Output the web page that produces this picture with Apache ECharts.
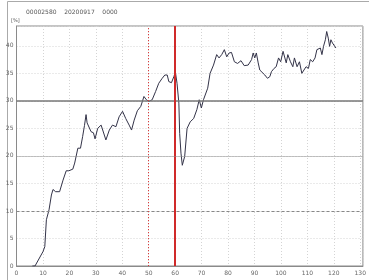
<!doctype html>
<html>
<head>
    <meta charset="utf-8">
    <script src="https://cdn.jsdelivr.net/npm/echarts/dist/echarts.min.js"></script>
    <style>
        body { margin: 0; background: #fff; }
        #chart { width: 369px; height: 280px; }
    </style>
</head>
<body>
    <div id="chart"></div>
</body>
<script type="text/javascript">
    // header text and limit lines
    var headerText = '00002580    20200917    0000';
    var unitText = '[%]';
    var limitY = [10, 20, 30];
    var markX = [50, 60];

    // measured curve (time, percent)
    var timeVals = [6, 7, 10, 10.7, 11.3, 12.3, 13.2, 13.8, 14.8, 16.3, 17.6, 18.8, 19.8, 21.3, 22, 23.2, 24.2, 25, 25.7, 26.3, 26.7, 27.3, 28.2, 29.1, 29.7, 30.7, 32, 32.6, 33.8, 35.1, 36.3, 37.6, 38.8, 40.1, 41.3, 42.6, 43.5, 44.5, 45.7, 47, 48.2, 49.1, 50.1, 51.3, 52.6, 53.8, 55.1, 56.1, 57, 57.6, 58.6, 59.5, 60.1, 60.7, 61.4, 61.7, 62.2, 62.7, 63.6, 64.5, 65.7, 67, 68.2, 69.1, 69.9, 70.7, 72.3, 73.2, 74.5, 75.7, 76.6, 77.6, 78.6, 79.5, 80.4, 81.3, 82.4, 83.6, 84.9, 86.1, 87.6, 88.9, 89.5, 90.1, 90.7, 91.4, 92, 92.6, 93.9, 94.9, 95.8, 96.4, 97.4, 98.2, 99.1, 99.9, 100.8, 101.4, 102, 102.6, 103.6, 104.5, 105.1, 106.1, 107, 107.9, 108.6, 109.5, 110.4, 111.1, 112, 112.9, 113.6, 114.3, 114.9, 115.5, 116.1, 116.8, 117.3, 117.9, 118.4, 118.9, 119.5, 120.2, 120.8];
    var pctVals = [0, 0, 2.6, 3.5, 8.4, 10.2, 12.9, 13.9, 13.5, 13.5, 15.6, 17.3, 17.3, 17.6, 18.7, 21.4, 21.4, 23.5, 25.5, 27.5, 26, 26.2, 24.4, 24.2, 23.1, 25, 25.6, 25.5, 22.9, 24.7, 25.6, 25.3, 27.1, 28.1, 26.8, 25.6, 24.7, 26.5, 28.2, 29, 30.8, 30.2, 29.9, 30.2, 31.7, 33.2, 34.1, 34.7, 34.7, 33.5, 33.3, 34.4, 35.2, 33.2, 29.6, 24.1, 20.5, 18.3, 19.9, 25, 26.2, 26.8, 28.4, 30.2, 28.7, 30.2, 32.3, 35, 36.5, 38.4, 37.8, 38.4, 39.3, 38, 38.7, 38.8, 37.1, 36.8, 37.3, 36.4, 36.5, 37.5, 38.7, 37.8, 38.7, 36.9, 35.6, 35.3, 34.7, 34.1, 34.4, 35.3, 35.9, 36.2, 37.8, 37.1, 39, 38.7, 36.9, 38.4, 37.1, 36.2, 37.8, 36.2, 37.1, 35, 34.7, 36.2, 35.9, 37.5, 37.1, 37.8, 39.3, 39, 39.6, 38.4, 39.9, 41.1, 42.6, 41.4, 39.9, 41.1, 40.5, 40.8, 39.6];

    var curve = timeVals.map(function (t, i) { return [t, pctVals[i]]; });

    var chart = echarts.init(document.getElementById('chart'));

    var labelStyle = { color: '#666', fontSize: 6, fontFamily: 'DejaVu Sans' };

    var option = {
        animation: false,
        grid: {
            left: 16.5, right: 4, top: 26, bottom: 14,
            show: true, borderColor: '#8a8a8a', borderWidth: 1
        },
        graphic: [
            {
                type: 'rect', shape: { x: 7.5, y: 1.5, width: 370, height: 290 },
                style: { fill: 'none', stroke: '#aaa', lineWidth: 1 }, silent: true
            },
            {
                type: 'text', left: 26, top: 9,
                style: { text: headerText, fill: '#555', fontSize: 6, fontFamily: 'DejaVu Sans' }
            },
            {
                type: 'text', left: 11, top: 18,
                style: { text: unitText, fill: '#555', fontSize: 5, fontFamily: 'DejaVu Sans' }
            }
        ],
        xAxis: {
            type: 'value', min: 0, max: 131, interval: 10,
            axisLine: { show: true, lineStyle: { color: '#8a8a8a' } },
            axisTick: { show: false },
            axisLabel: Object.assign({ margin: 4, showMaxLabel: false }, labelStyle),
            splitLine: { show: true, lineStyle: { color: '#d4d4d4', type: [1, 2], width: 1 } }
        },
        yAxis: {
            type: 'value', min: 0, max: 43.6, interval: 5,
            axisLine: { show: true, lineStyle: { color: '#8a8a8a' } },
            axisTick: { show: false },
            axisLabel: Object.assign({ margin: 3, showMaxLabel: false }, labelStyle),
            splitLine: { show: true, lineStyle: { color: '#d4d4d4', type: [1, 2], width: 1 } }
        },
        series: [
            {
                type: 'line',
                data: curve,
                showSymbol: false,
                z: 3,
                lineStyle: { color: '#333348', width: 1 },
                markLine: {
                    silent: true, symbol: 'none', label: { show: false },
                    data: [
                        { yAxis: limitY[0], lineStyle: { color: '#888', type: [3, 2], width: 1 } },
                        { yAxis: limitY[2], lineStyle: { color: '#777', type: 'solid', width: 1.5 } },
                        { xAxis: markX[1], lineStyle: { color: '#d02a2a', type: 'solid', width: 2 } }
                    ]
                }
            },
            {
                type: 'line',
                data: curve,
                showSymbol: false,
                z: 2,
                lineStyle: { opacity: 0 },
                markLine: {
                    silent: true, symbol: 'none', label: { show: false },
                    lineStyle: { color: '#e03a3a', type: [1, 2], width: 1, opacity: 1 },
                    data: [{ xAxis: markX[0] }]
                }
            },
            {
                type: 'line',
                data: curve,
                showSymbol: false,
                z: 2,
                lineStyle: { opacity: 0 },
                markLine: {
                    silent: true, symbol: 'none', label: { show: false },
                    lineStyle: { color: '#8c8c8c', type: [1, 1], width: 1, opacity: 1 },
                    data: [{ yAxis: limitY[1] }]
                }
            }
        ]
    };

    chart.setOption(option);
</script>
</html>
